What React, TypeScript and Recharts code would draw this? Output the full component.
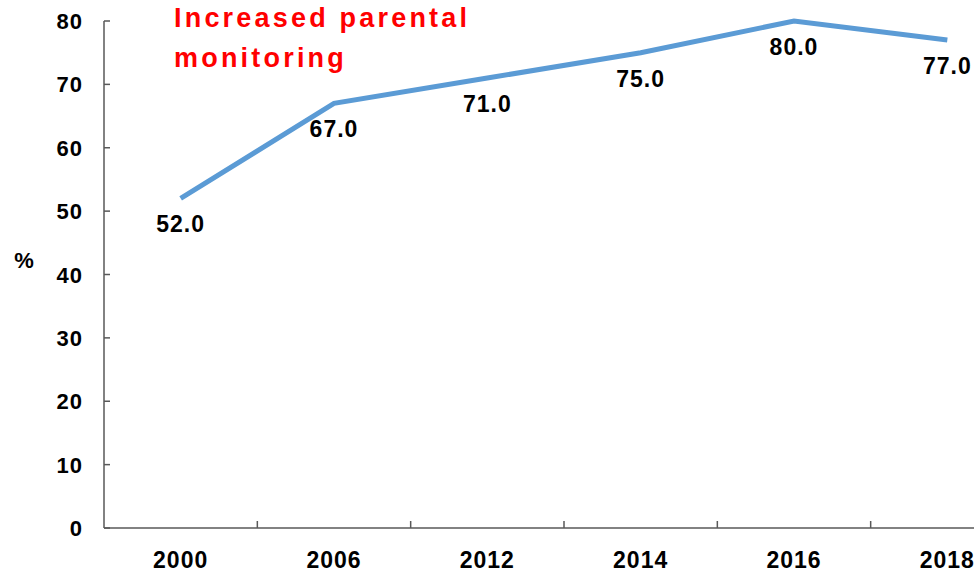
import { LabelList, Line, LineChart, XAxis, YAxis } from "recharts";

const years = ["2000", "2006", "2012", "2014", "2016", "2018"];
const monitoring = [52.0, 67.0, 71.0, 75.0, 80.0, 77.0];
const yTicks = [0, 10, 20, 30, 40, 50, 60, 70, 80];

const data = years.map((year, i) => ({ year, value: monitoring[i] }));

const CHART_W = 1030;
const CHART_H = 574;
const MARGIN = { top: 21, right: 6, left: 0, bottom: 0 };
const Y_AXIS_W = 104;
const X_AXIS_H = 46;
const BAND = (CHART_W - MARGIN.left - MARGIN.right - Y_AXIS_W) / years.length;

const font = "'Liberation Sans', Arial, sans-serif";

function YTick({ x, y, payload }: any) {
  return (
    <g>
      <line x1={x + 22} x2={x + 28} y1={y} y2={y} stroke="#595959" strokeWidth={1.5} />
      <text
        x={x + 1}
        y={y + 8}
        textAnchor="end"
        fontFamily={font}
        fontWeight="bold"
        fontSize={22}
        fill="#000"
        style={{ letterSpacing: 1 }}
      >
        {payload.value}
      </text>
    </g>
  );
}

function XTick({ x, y, payload }: any) {
  const edge = x + BAND / 2;
  return (
    <g>
      <line x1={edge} x2={edge} y1={y} y2={y - 7} stroke="#595959" strokeWidth={1.5} />
      <text
        x={x}
        y={y + 40}
        textAnchor="middle"
        fontFamily={font}
        fontWeight="bold"
        fontSize={23}
        fill="#000"
        style={{ letterSpacing: 1 }}
      >
        {payload.value}
      </text>
    </g>
  );
}

function ValueLabel({ x, y, value }: any) {
  return (
    <text
      x={x}
      y={y + 34}
      textAnchor="middle"
      fontFamily={font}
      fontWeight="bold"
      fontSize={23}
      fill="#000"
      style={{ letterSpacing: 1 }}
    >
      {Number(value).toFixed(1)}
    </text>
  );
}

export default function App() {
  return (
    <div
      style={{
        position: "absolute",
        left: 0,
        top: 0,
        width: 974,
        height: 574,
        overflow: "hidden",
        background: "#fff",
      }}
    >
      <LineChart width={CHART_W} height={CHART_H} data={data} margin={MARGIN}>
        <XAxis
          dataKey="year"
          height={X_AXIS_H}
          interval={0}
          padding={{ left: BAND / 2, right: BAND / 2 }}
          tickSize={0}
          tickMargin={0}
          tickLine={false}
          axisLine={{ stroke: "#595959", strokeWidth: 1.5 }}
          tick={<XTick />}
        />
        <YAxis
          domain={[0, 80]}
          ticks={yTicks}
          width={Y_AXIS_W}
          tickSize={0}
          tickMargin={22}
          tickLine={false}
          axisLine={{ stroke: "#595959", strokeWidth: 1.5 }}
          tick={<YTick />}
        />
        <Line
          type="linear"
          dataKey="value"
          stroke="#5B9BD5"
          strokeWidth={5}
          dot={false}
          activeDot={false}
          isAnimationActive={false}
        >
          <LabelList dataKey="value" content={<ValueLabel />} />
        </Line>
        <text x={24} y={268} textAnchor="middle" fontFamily={font} fontWeight="bold" fontSize={22} fill="#000">
          %
        </text>
        <text
          x={174}
          y={27}
          fontFamily={font}
          fontWeight="bold"
          fontSize={27}
          fill="#FF0000"
          style={{ letterSpacing: 3.2 }}
        >
          <tspan x={174}>Increased parental</tspan>
          <tspan x={174} y={67}>
            monitoring
          </tspan>
        </text>
      </LineChart>
    </div>
  );
}
